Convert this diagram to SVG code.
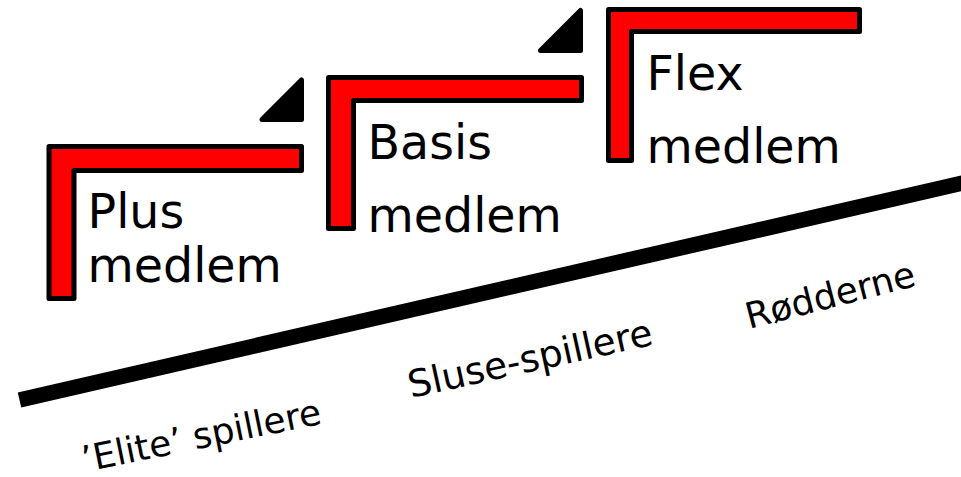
<svg xmlns="http://www.w3.org/2000/svg" width="961" height="477" viewBox="0 0 961 477">
<style>
.br{fill:#ff0000;stroke:#000;stroke-width:5;stroke-linejoin:round}
.tri{fill:#000;stroke:#000;stroke-width:5;stroke-linejoin:round}
.lbl{font-family:"DejaVu Sans",Verdana,sans-serif;font-size:47.5px;fill:#000}
.sm{font-family:"DejaVu Sans",Verdana,sans-serif;font-size:36px;fill:#000}
</style>
<rect width="961" height="477" fill="#fff"/>
<g id="connectors">
<line x1="19.5" y1="400" x2="975" y2="180.2" stroke="#000" stroke-width="15.5"/>
</g>
<g id="plus">
<path class="br" d="M49,146.5 H301.5 V170.5 H74 V298.5 H49 Z"/>
<path class="tri" d="M301.5,80 V119.5 H262 Z"/>
<text class="lbl" x="87.5" y="228">Plus</text>
<text class="lbl" x="87.5" y="282">medlem</text>
</g>
<g id="basis">
<path class="br" d="M328.5,77.5 H581.5 V100.5 H353.5 V228.5 H328.5 Z"/>
<path class="tri" d="M580.5,10.5 V50.5 H540.5 Z"/>
<text class="lbl" x="367.5" y="159">Basis</text>
<text class="lbl" x="367.5" y="232">medlem</text>
</g>
<g id="flex">
<path class="br" d="M608.5,9.5 H859.5 V31.5 H631.5 V160.5 H608.5 Z"/>
<text class="lbl" x="646.5" y="90">Flex</text>
<text class="lbl" x="646.5" y="163">medlem</text>
</g>
<g id="elite">
<text class="sm" transform="translate(84.5,472) rotate(-11.5)">’Elite’ spillere</text>
</g>
<g id="sluse">
<text class="sm" style="font-size:37.5px" transform="translate(411,398) rotate(-12.4)">Sluse-spillere</text>
</g>
<g id="rodderne">
<text class="sm" transform="translate(749,329) rotate(-14.5)">Rødderne</text>
</g>
</svg>
